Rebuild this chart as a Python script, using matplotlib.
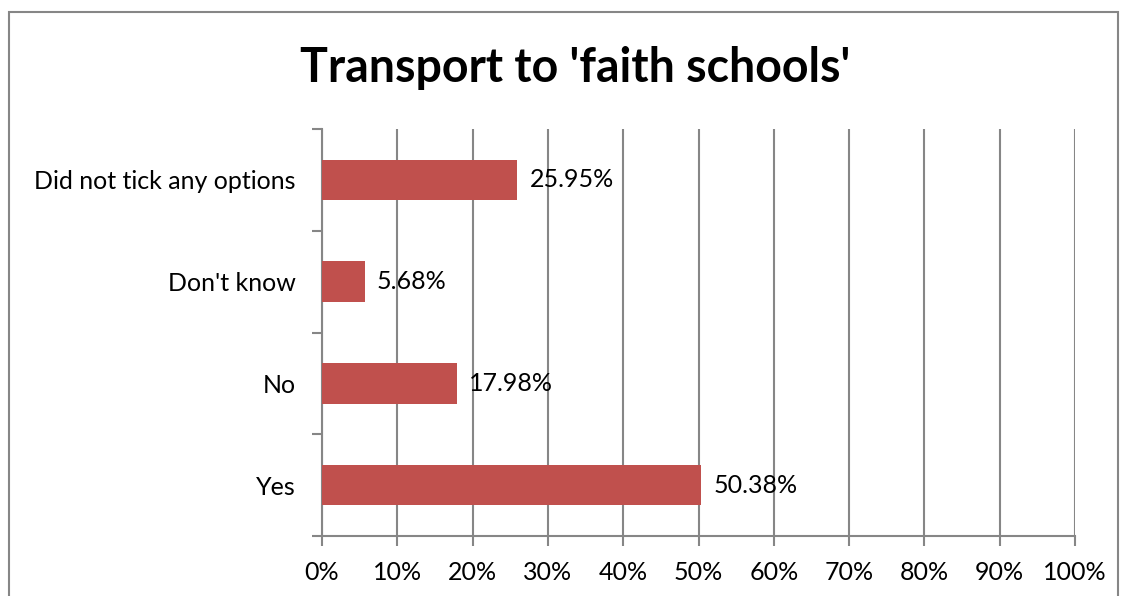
import matplotlib.pyplot as plt
from matplotlib.patches import Rectangle

categories = ['Yes', 'No', "Don't know", 'Did not tick any options']
values = [50.38, 17.98, 5.68, 25.95]
labels = ['50.38%', '17.98%', '5.68%', '25.95%']
xticks = [0, 10, 20, 30, 40, 50, 60, 70, 80, 90, 100]

plt.rcParams['font.family'] = ['Lato', 'DejaVu Sans']

fig = plt.figure(figsize=(11.24, 5.96), dpi=100)
ax = fig.add_axes([322 / 1124, 1 - 536 / 596, 753 / 1124, 407 / 596])

grid_c = '#868686'
bar_c = '#C0504D'

ax.barh(range(len(categories)), values, height=0.4, color=bar_c, zorder=3)
for i, (v, lab) in enumerate(zip(values, labels)):
    ax.annotate(lab, (v, i), xytext=(12, 0), textcoords='offset pixels',
                va='center', ha='left', fontsize=18, color='black', zorder=4)

ax.set_xlim(0, 100)
ax.set_ylim(-0.5, len(categories) - 0.5)
ax.set_xticks(xticks)
ax.set_xticklabels([f'{t}%' for t in xticks], fontsize=18)
ax.set_yticks(range(len(categories)))
ax.set_yticklabels(categories, fontsize=18)
ax.tick_params(axis='y', length=0, pad=19)
ax.tick_params(axis='x', length=7, color=grid_c, width=1.5, pad=11)
ax.set_yticks([i - 0.5 for i in range(len(categories) + 1)], minor=True)
ax.tick_params(axis='y', which='minor', length=7, color=grid_c, width=1.5)

ax.grid(axis='x', color=grid_c, linewidth=1.5, zorder=0)
for side in ['top', 'right']:
    ax.spines[side].set_visible(False)
for side in ['left', 'bottom']:
    ax.spines[side].set_color(grid_c)
    ax.spines[side].set_linewidth(1.5)

fig.text(575 / 1124, 1 - 68 / 596, "Transport to 'faith schools'",
         ha='center', va='center', fontsize=33.5, fontweight='bold')

fig.patches.append(Rectangle((9 / 1124, -0.1), (1118 - 9) / 1124, 1.1 - 12 / 596,
                             transform=fig.transFigure, fill=False,
                             edgecolor=grid_c, linewidth=1.5))

fig.savefig('out.png', dpi=100)
